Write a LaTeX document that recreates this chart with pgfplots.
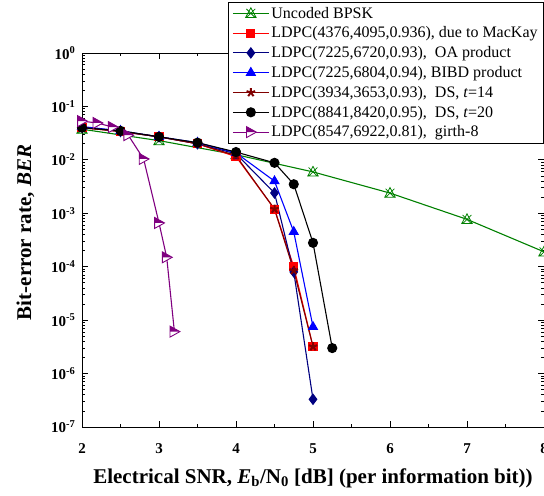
\documentclass[border=0pt]{standalone}
\usepackage{pgfplots}
\pgfplotsset{compat=1.18}
\usepackage{fontspec}
\setmainfont{Liberation Serif}

\definecolor{cgreen}{RGB}{0,128,0}
\definecolor{cred}{RGB}{255,0,0}
\definecolor{cnavy}{RGB}{0,0,128}
\definecolor{cblue}{RGB}{0,0,255}
\definecolor{cdred}{RGB}{128,0,0}
\definecolor{cpurple}{RGB}{128,0,128}

% triangle with a cross through it
\pgfdeclareplotmark{trix}{%
  \pgfpathmoveto{\pgfqpoint{0pt}{\pgfplotmarksize}}%
  \pgfpathlineto{\pgfqpoint{-0.95\pgfplotmarksize}{-0.75\pgfplotmarksize}}%
  \pgfpathlineto{\pgfqpoint{0.95\pgfplotmarksize}{-0.75\pgfplotmarksize}}%
  \pgfpathclose
  \pgfpathmoveto{\pgfqpoint{-0.8\pgfplotmarksize}{0.8\pgfplotmarksize}}%
  \pgfpathlineto{\pgfqpoint{0.8\pgfplotmarksize}{-0.8\pgfplotmarksize}}%
  \pgfpathmoveto{\pgfqpoint{-0.8\pgfplotmarksize}{-0.8\pgfplotmarksize}}%
  \pgfpathlineto{\pgfqpoint{0.8\pgfplotmarksize}{0.8\pgfplotmarksize}}%
  \pgfusepathqstroke
}
% right-pointing triangle, upper half filled
\pgfdeclareplotmark{halftri}{%
  \begin{pgfscope}
  \pgfsetfillcolor{white}%
  \pgfpathmoveto{\pgfqpoint{-0.8\pgfplotmarksize}{\pgfplotmarksize}}%
  \pgfpathlineto{\pgfqpoint{\pgfplotmarksize}{0pt}}%
  \pgfpathlineto{\pgfqpoint{-0.8\pgfplotmarksize}{-\pgfplotmarksize}}%
  \pgfpathclose
  \pgfusepathqfill
  \end{pgfscope}
  \pgfpathmoveto{\pgfqpoint{-0.8\pgfplotmarksize}{\pgfplotmarksize}}%
  \pgfpathlineto{\pgfqpoint{\pgfplotmarksize}{0pt}}%
  \pgfpathlineto{\pgfqpoint{-0.8\pgfplotmarksize}{0pt}}%
  \pgfpathclose
  \pgfusepathqfill
  \pgfpathmoveto{\pgfqpoint{-0.8\pgfplotmarksize}{\pgfplotmarksize}}%
  \pgfpathlineto{\pgfqpoint{\pgfplotmarksize}{0pt}}%
  \pgfpathlineto{\pgfqpoint{-0.8\pgfplotmarksize}{-\pgfplotmarksize}}%
  \pgfpathclose
  \pgfusepathqstroke
}

\begin{document}
\begin{tikzpicture}
\begin{axis}[
  name=ax,
  scale only axis,
  width=462pt, height=374pt,
  xmin=2, xmax=8,
  ymode=log, ymin=1e-7, ymax=1,
  xtick={2,3,4,5,6,7,8},
  xticklabels={2,3,4,5,6,7,8},
  minor x tick num=1,
  ytick={1e-7,1e-6,1e-5,1e-4,1e-3,1e-2,1e-1,1},
  yticklabels={10\textsuperscript{-7},10\textsuperscript{-6},10\textsuperscript{-5},10\textsuperscript{-4},10\textsuperscript{-3},10\textsuperscript{-2},10\textsuperscript{-1},10\textsuperscript{0}},
  tick label style={font=\fontsize{15}{15}\selectfont\bfseries},
  xticklabel style={anchor=base, yshift=-26pt},
  yticklabel style={xshift=-3pt},
  major tick length=6pt, minor tick length=3pt,
  tick align=inside,
  axis line style={line width=1pt},
  every tick/.style={black, line width=0.8pt},
  xlabel={Electrical SNR, \textit{E}\textsubscript{b}/N\textsubscript{0} [dB] (per information bit))},
  ylabel={Bit-error rate, \textit{BER}},
  label style={font=\fontsize{21}{21}\selectfont\bfseries},
  xlabel style={at={(axis description cs:0.5,-0.1497)}, anchor=base},
  ylabel style={at={(axis description cs:-0.110,0.52)}, anchor=base},
  legend style={at={(rel axis cs:1,1)}, yshift=51pt, anchor=north east,
    font=\fontsize{16}{16}\selectfont, draw=black, line width=0.8pt,
    row sep=0pt, inner xsep=4pt, inner ysep=1pt,
    nodes={inner ysep=3.6pt}},
  legend cell align=left,
  legend image code/.code={%
    \draw[mark repeat=2,mark phase=2] plot coordinates {(0pt,0pt) (18pt,0pt) (36pt,0pt)};},
  every axis plot/.append style={line width=1.1pt},
]
\addplot[cgreen, mark=trix, mark size=5.5pt, mark options={line width=0.8pt}] coordinates {
(2,0.0375) (3,0.0229) (4,0.0125) (5,0.00595) (6,0.00239) (7,0.00077) (8,0.00019)
};
\addlegendentry{Uncoded BPSK}

\addplot[cred, mark=square*, mark size=4pt] coordinates {
(2,0.040) (2.5,0.034) (3,0.027) (3.5,0.020) (4,0.0115) (4.5,0.0012) (4.75,1.0e-4) (5,3.2e-6)
};
\addlegendentry{LDPC(4376,4095,0.936), due to MacKay}

\addplot[cnavy, mark=diamond*, mark size=5pt] coordinates {
(2,0.041) (2.5,0.034) (3,0.027) (3.5,0.020) (4,0.013) (4.5,0.0024) (4.75,8.0e-5) (5,3.3e-7)
};
\addlegendentry{LDPC(7225,6720,0.93),\ \ OA product}

\addplot[cblue, mark=triangle*, mark size=5pt] coordinates {
(2,0.042) (2.5,0.035) (3,0.027) (3.5,0.021) (4,0.0135) (4.5,0.0040) (4.75,4.5e-4) (5,7.5e-6)
};
\addlegendentry{LDPC(7225,6804,0.94), BIBD product}

\addplot[cdred, mark=star, mark size=4.5pt, mark options={line width=2pt}] coordinates {
(2,0.040) (2.5,0.034) (3,0.027) (3.5,0.020) (4,0.012) (4.5,0.0012) (4.75,8.5e-5) (5,3.2e-6)
};
\addlegendentry{LDPC(3934,3653,0.93),\ \ DS, \textit{t}=14}

\addplot[black, mark=*, mark size=4.5pt] coordinates {
(2,0.040) (2.5,0.035) (3,0.027) (3.5,0.021) (4,0.014) (4.5,0.0088) (4.75,0.0035) (5,2.8e-4) (5.25,3.0e-6)
};
\addlegendentry{LDPC(8841,8420,0.95),\ \ DS, \textit{t}=20}

\addplot[cpurple, mark=halftri, mark size=5.5pt, mark options={fill=cpurple, line width=0.9pt}] coordinates {
(2,0.053) (2.2,0.049) (2.4,0.041) (2.6,0.029) (2.8,0.0104) (3,6.6e-4) (3.1,1.5e-4) (3.2,6.1e-6)
};
\addlegendentry{LDPC(8547,6922,0.81),\ \ girth-8}
\end{axis}
\pgfresetboundingbox
\path ([shift={(-82pt,-68pt)}]ax.south west) rectangle ([shift={(0pt,53pt)}]ax.north east);
\end{tikzpicture}
\end{document}
